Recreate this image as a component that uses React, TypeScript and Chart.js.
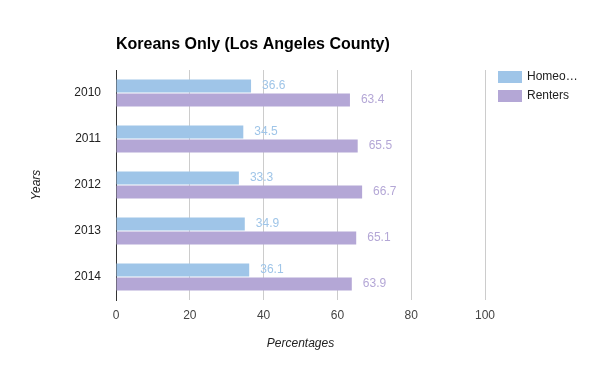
import React, { useEffect, useRef } from "react";
import { Chart, registerables } from "chart.js";

Chart.register(...registerables);

const years = ["2010", "2011", "2012", "2013", "2014"];
const homeowners = [36.6, 34.5, 33.3, 34.9, 36.1];
const renters = [63.4, 65.5, 66.7, 65.1, 63.9];
const seriesNames = ["Homeowners", "Renters"];
const legendLabels = ["Homeo…", "Renters"];
const colors = ["#9fc5e8", "#b4a7d6"];
const xTicks = [0, 20, 40, 60, 80, 100];
const FONT = "'Liberation Sans', Arial, sans-serif";

export default function App() {
  const ref = useRef<HTMLCanvasElement | null>(null);
  useEffect(() => {
    document.body.style.margin = "0";
    const canvas = ref.current!;
    const deco = {
      id: "deco",
      afterDatasetsDraw(chart: any) {
        const ctx = chart.ctx;
        ctx.save();
        ctx.font = `12px ${FONT}`;
        ctx.textBaseline = "middle";
        ctx.textAlign = "left";
        chart.data.datasets.forEach((ds: any, di: number) => {
          const meta = chart.getDatasetMeta(di);
          ctx.fillStyle = colors[di];
          meta.data.forEach((bar: any, i: number) => {
            ctx.fillText(String(ds.data[i]), bar.x + 11, bar.y);
          });
        });
        ctx.restore();
      },
      afterDraw(chart: any) {
        const ctx = chart.ctx;
        const ca = chart.chartArea;
        ctx.save();
        // title
        ctx.fillStyle = "#000";
        ctx.font = `bold 16px ${FONT}`;
        ctx.textAlign = "left";
        ctx.textBaseline = "middle";
        ctx.fillText("Koreans Only (Los Angeles County)", 116, 45);
        // axis titles
        ctx.font = `italic 12px ${FONT}`;
        ctx.fillStyle = "#222";
        ctx.textAlign = "center";
        ctx.fillText("Percentages", (ca.left + ca.right) / 2, 344);
        ctx.translate(37, (ca.top + ca.bottom) / 2);
        ctx.rotate(-Math.PI / 2);
        ctx.fillText("Years", 0, 0);
        ctx.restore();
        // legend
        ctx.save();
        ctx.font = `12px ${FONT}`;
        ctx.textBaseline = "middle";
        ctx.textAlign = "left";
        legendLabels.forEach((lbl, i) => {
          const y = 71 + i * 19;
          ctx.fillStyle = colors[i];
          ctx.fillRect(498, y, 24, 12);
          ctx.fillStyle = "#222";
          ctx.fillText(lbl, 527, y + 6);
        });
        ctx.restore();
      },
    };
    const chart = new Chart(canvas, {
      type: "bar",
      data: {
        labels: years,
        datasets: [
          { label: seriesNames[0], data: homeowners, backgroundColor: colors[0], categoryPercentage: 0.61, barPercentage: 0.93 },
          { label: seriesNames[1], data: renters, backgroundColor: colors[1], categoryPercentage: 0.61, barPercentage: 0.93 },
        ],
      },
      options: {
        indexAxis: "y",
        responsive: false,
        animation: false,
        layout: { padding: { top: 70, right: 115, left: 0, bottom: 0 } },
        plugins: { legend: { display: false }, title: { display: false }, tooltip: { enabled: false } },
        scales: {
          x: {
            min: 0,
            max: 100,
            afterBuildTicks: (scale: any) => {
              scale.ticks = xTicks.map((v) => ({ value: v }));
            },
            afterFit: (scale: any) => {
              scale.height = 71;
            },
            grid: { color: "#cccccc", drawTicks: false },
            border: { display: false },
            ticks: { color: "#444", font: { family: FONT, size: 12 }, padding: 8 },
          },
          y: {
            afterFit: (scale: any) => {
              scale.width = 116;
            },
            grid: { display: false, drawTicks: false },
            border: { display: true, color: "#333", width: 1 },
            ticks: { color: "#222", font: { family: FONT, size: 12 }, padding: 15 },
          },
        },
      },
      plugins: [deco],
    });
    return () => chart.destroy();
  }, []);
  return <canvas ref={ref} width={600} height={371} style={{ display: "block" }} />;
}
